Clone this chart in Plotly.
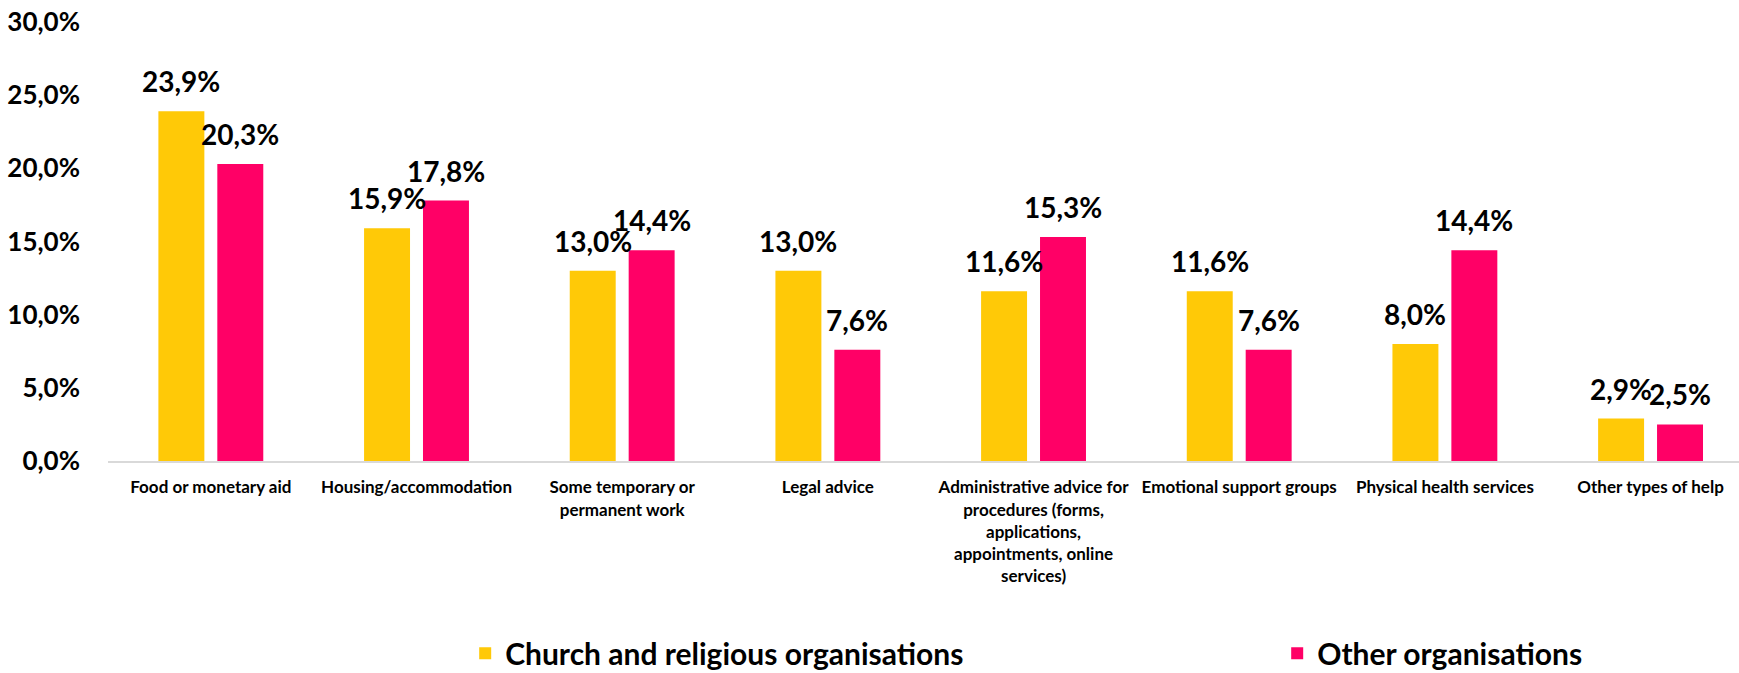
import plotly.graph_objects as go

# categories (x axis) and the two series
categories = [
    "Food or monetary aid",
    "Housing/accommodation",
    "Some temporary or<br>permanent work",
    "Legal advice",
    "Administrative advice for<br>procedures (forms,<br>applications,<br>appointments, online<br>services)",
    "Emotional support groups",
    "Physical health services",
    "Other types of help",
]
church_vals = [23.9, 15.9, 13.0, 13.0, 11.6, 11.6, 8.0, 2.9]
other_vals = [20.3, 17.8, 14.4, 7.6, 15.3, 7.6, 14.4, 2.5]
series_names = ["Church and religious organisations", "Other organisations"]

YELLOW = "#FFC907"
PINK = "#FF0066"
FONT = "Lato"


def fmt(v):
    # comma decimal, as in the source chart
    return f"{v:.1f}".replace(".", ",") + "%"


fig = go.Figure()
# first legend entry gets a fixed width so the second one lands further right
fig.add_trace(go.Bar(x=categories, y=church_vals, name=series_names[0],
                     legendwidth=767,
                     marker=dict(color=YELLOW, line_width=0)))
fig.add_trace(go.Bar(x=categories, y=other_vals, name=series_names[1],
                     marker=dict(color=PINK, line_width=0)))

# value labels above each bar
for vals, shift in ((church_vals, -29.5), (other_vals, 29.5)):
    for cat, v in zip(categories, vals):
        fig.add_annotation(x=cat, y=v, xref="x", yref="y", text=fmt(v),
                           showarrow=False, xshift=shift, yshift=30,
                           yanchor="middle", xanchor="center",
                           font=dict(family=FONT, size=28, color="black",
                                     weight="bold"))

fig.update_layout(
    width=1739, height=673,
    margin=dict(l=108, r=0, t=22, b=212, autoexpand=False),
    plot_bgcolor="white", paper_bgcolor="white",
    barmode="group", bargap=0.427, bargroupgap=0.22,
    separators=",.",
    font=dict(family=FONT, color="black"),
    showlegend=True,
    legend=dict(orientation="h", x=0.219, xanchor="left",
                y=-0.438, yanchor="middle",
                font=dict(family=FONT, size=30, color="black", weight="bold"),
                bgcolor="rgba(0,0,0,0)"),
)

fig.update_xaxes(
    range=[-0.5, 7.43], automargin=False,
    showline=True, linecolor="#d9d9d9", linewidth=2,
    showgrid=False, zeroline=False, ticks="",
    ticklabelstandoff=10,
    tickfont=dict(family=FONT, size=17, color="black", weight="bold"),
)
fig.update_yaxes(
    range=[0, 30], dtick=5, tickformat=".1f", ticksuffix="%",
    automargin=False,
    showline=False, showgrid=False, zeroline=False, ticks="",
    ticklabelstandoff=27,
    tickfont=dict(family=FONT, size=26, color="black", weight="bold"),
)

# drop the default 8px body margin so the figure fills the window
fig.write_html("out.html", config={"displayModeBar": False},
               post_script="document.body.style.margin='0';")
